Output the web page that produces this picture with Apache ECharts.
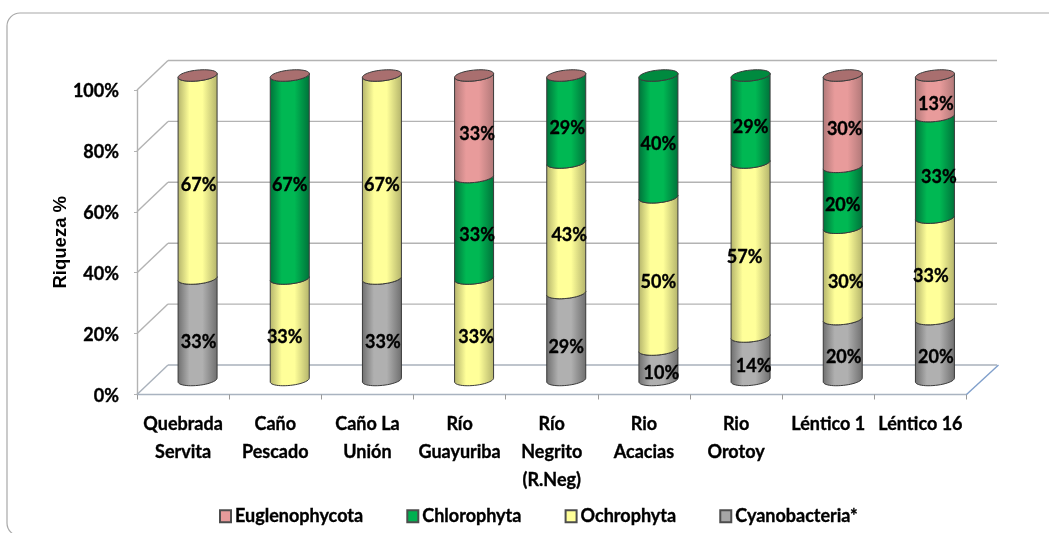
<!DOCTYPE html>
<html>
<head>
<meta charset="utf-8">
<title>Riqueza % por estación</title>
<script src="https://cdn.jsdelivr.net/npm/echarts@6/dist/echarts.min.js"></script>
<style>
  html, body { margin: 0; padding: 0; background: #fff; }
  #chart { width: 1049px; height: 533px; }
</style>
</head>
<body>
<div id="chart"></div>
<script>
// Station names, split over lines the way the axis prints them
const categories = ['Quebrada\nServita', 'Caño\nPescado', 'Caño La\nUnión', 'Río\nGuayuriba',
  'Río\nNegrito\n(R.Neg)', 'Rio\nAcacias', 'Rio\nOrotoy', 'Léntico 1', 'Léntico 16'];

// Percent richness per taxon; null means the taxon is not part of that station's stack
const cyanobacteria = [33.33, 0, 33.33, 0, 28.57, 10, 14.29, 20, 20];
const ochrophyta = [66.67, 33.33, 66.67, 33.33, 42.86, 50, 57.14, 30, 33.33];
const chlorophyta = [0, 66.67, 0, 33.33, 28.57, 40, 28.57, 20, 33.33];
const euglenophycota = [0, 0, 0, 33.34, 0, null, null, 30, 13.34];

const yTicks = [0, 20, 40, 60, 80, 100];

// Hand placement of the value labels relative to their segment, in pixels [dx, dy]
const cyanobacteriaLabelShift = [[1, 13], [0, 0], [1, 13], [0, 0], [0, 11], [3, 8], [3, 8], [1, 8], [1, 8]];
const ochrophytaLabelShift = [[1, 8], [-5, 8], [0, 8], [2, 8], [3, 7], [0, 9], [-6, 8], [3, 9], [-4, 8]];
const chlorophytaLabelShift = [[0, 0], [0, 8], [0, 0], [3, 7], [1, 9], [0, 8], [0, 8], [0, 8], [4, 10]];
const euglenophycotaLabelShift = [[0, 0], [0, 0], [0, 0], [3, 8], [0, 0], [0, 0], [0, 0], [2, 8], [1, 8]];

const FONT = 'Lato';
const TEXT_SIZE = 18;
const DEPTH_X = 31;       // how far the back wall sits from the front plane
const DEPTH_Y = 29.5;
const BAR_SHIFT_X = 14.5; // cylinders stand midway through the depth
const BAR_SHIFT_Y = 14.5;
const RX = 19.6;
const RY = 5.4;
const TILT = -6 * Math.PI / 180;

// Bold text in this size reads a touch light, so it gets a hairline outline
const heavyText = { textBorderColor: '#000', textBorderWidth: 0.35 };

// Point on the tilted ellipse of a cylinder cross-section
function rim(cx, cy, t) {
  const ex = RX * Math.cos(t), ey = RY * Math.sin(t);
  return [cx + ex * Math.cos(TILT) - ey * Math.sin(TILT),
          cy + ex * Math.sin(TILT) + ey * Math.cos(TILT)];
}
// Front half of the ellipse, walking from one side to the other
function frontArc(cx, cy, reverse) {
  const pts = [];
  for (let k = 0; k <= 24; k++) {
    const t = Math.PI * (reverse ? 24 - k : k) / 24;
    pts.push(rim(cx, cy, t));
  }
  return pts;
}
function fullRim(cx, cy) {
  const pts = [];
  for (let k = 0; k < 48; k++) pts.push(rim(cx, cy, 2 * Math.PI * k / 48));
  return pts;
}

function sideGradient(edge, mid) {
  return new echarts.graphic.LinearGradient(0, 0, 1, 0, [
    { offset: 0, color: edge },
    { offset: 0.3, color: mid },
    { offset: 0.62, color: mid },
    { offset: 1, color: edge }
  ]);
}

// Stack bases for each station, taxa in drawing order from the floor up
const stackOrder = [cyanobacteria, ochrophyta, chlorophyta, euglenophycota];
function stackData(level) {
  return categories.map((_, i) => {
    let start = 0;
    for (let s = 0; s < level; s++) start += stackOrder[s][i] || 0;
    const v = stackOrder[level][i];
    return [i, start, v == null ? null : start + v, v];
  });
}

function cylinderSeries(name, level, shades, shifts) {
  return {
    type: 'custom',
    name: name,
    coordinateSystem: 'cartesian2d',
    itemStyle: { color: shades.swatch, borderColor: '#4d4d4d', borderWidth: 1 },
    encode: { x: 0, y: [1, 2] },
    z: 5 + level,
    data: stackData(level),
    renderItem: function (params, api) {
      const value = api.value(3);
      if (value == null || isNaN(value)) return null;
      const i = api.value(0);
      const lo = api.coord([i, api.value(1)]);
      const hi = api.coord([i, api.value(2)]);
      const cx = lo[0] + BAR_SHIFT_X;
      const y0 = lo[1] - BAR_SHIFT_Y;
      const y1 = hi[1] - BAR_SHIFT_Y;
      const children = [];
      if (value > 0) {
        children.push({
          type: 'polygon',
          shape: { points: frontArc(cx, y0, false).concat(frontArc(cx, y1, true)) },
          style: { fill: sideGradient(shades.edge, shades.mid), stroke: '#3a3a3a', lineWidth: 1 }
        });
        children.push({
          type: 'text',
          z2: 50,
          style: {
            x: cx + shifts[i][0],
            y: (y0 + y1) / 2 + shifts[i][1],
            text: Math.round(value) + '%',
            fill: '#000',
            stroke: '#000',
            lineWidth: 0.35,
            font: 'bold 18px ' + FONT,
            align: 'center',
            verticalAlign: 'middle'
          }
        });
      }
      // The cap closes the stack: the last taxon listed for this station
      const isTop = level === 3 || (level === 2 && euglenophycota[i] == null);
      if (isTop) {
        children.push({
          type: 'polygon',
          z2: 10,
          shape: { points: fullRim(cx, y1) },
          style: { fill: shades.cap, stroke: '#3a3a3a', lineWidth: 1 }
        });
      }
      return { type: 'group', children: children };
    }
  };
}

// Depth lines of the side wall and the back wall, one per value tick
const wallSeries = {
  type: 'custom',
  name: 'walls',
  coordinateSystem: 'cartesian2d',
  silent: true,
  z: 1,
  data: yTicks.map(v => [0, v]),
  encode: { x: 0, y: 1 },
  renderItem: function (params, api) {
    const y = api.coord([0, api.value(1)])[1];
    const left = params.coordSys.x;
    const right = left + params.coordSys.width;
    const isFloor = api.value(1) === 0;
    const style = { stroke: isFloor ? '#a9b1bb' : '#b3b3b3', lineWidth: 1.4 };
    const children = [
      { type: 'line', shape: { x1: left, y1: y, x2: left + DEPTH_X, y2: y - DEPTH_Y }, style: style },
      { type: 'line', shape: { x1: left + DEPTH_X, y1: y - DEPTH_Y, x2: right + DEPTH_X - 0.5, y2: y - DEPTH_Y }, style: style }
    ];
    if (isFloor) {
      children.push({
        type: 'line',
        shape: { x1: right, y1: y, x2: right + DEPTH_X + 1, y2: y - DEPTH_Y },
        style: { stroke: '#7f9fcb', lineWidth: 1.4 }
      });
    }
    return { type: 'group', children: children };
  }
};

const chart = echarts.init(document.getElementById('chart'), null, { renderer: 'canvas' });
chart.setOption({
  animation: false,
  backgroundColor: '#fff',
  graphic: [{
    type: 'rect',
    z: -10,
    shape: { x: 7, y: 13, width: 1150, height: 523, r: 13 },
    style: { fill: '#fff', stroke: '#a8a8a8', lineWidth: 1.2 }
  }],
  grid: { left: 137, right: 82.5, top: 90, bottom: 138.5, containLabel: false },
  legend: {
    left: 214,
    top: 502,
    selectedMode: false,
    icon: 'rect',
    itemWidth: 11,
    itemHeight: 12,
    itemGap: 43,
    data: ['Euglenophycota', 'Chlorophyta', 'Ochrophyta', 'Cyanobacteria*'],
    textStyle: Object.assign({ fontFamily: FONT, fontWeight: 'bold', fontSize: TEXT_SIZE, color: '#000', padding: [0, 0, 0, -1] }, heavyText)
  },
  xAxis: {
    type: 'category',
    data: categories,
    boundaryGap: true,
    axisLine: { lineStyle: { color: '#a9b3c0', width: 1.4 } },
    axisTick: { show: true, length: 5, lineStyle: { color: '#9a9a9a' } },
    splitLine: { show: false },
    axisLabel: Object.assign({
      interval: 0,
      margin: 16,
      lineHeight: 28,
      fontFamily: FONT,
      fontWeight: 'bold',
      fontSize: TEXT_SIZE,
      color: '#000'
    }, heavyText)
  },
  yAxis: {
    type: 'value',
    min: 0,
    max: 100,
    interval: 20,
    name: 'Riqueza %',
    nameLocation: 'middle',
    nameGap: 67,
    nameMoveOverlap: false,
    nameTextStyle: { fontFamily: 'Liberation Sans', fontWeight: 'bold', fontSize: 18.5, color: '#000' },
    axisLine: { show: true, lineStyle: { color: '#b3b3b3', width: 1.4 } },
    axisTick: { show: true, length: 3, lineStyle: { color: '#b3b3b3' } },
    splitLine: { show: false },
    axisLabel: Object.assign({
      margin: 18,
      verticalAlign: 'top',
      lineHeight: 3,
      formatter: '{value}%',
      fontFamily: FONT,
      fontWeight: 'bold',
      fontSize: TEXT_SIZE,
      color: '#000'
    }, heavyText)
  },
  series: [
    wallSeries,
    cylinderSeries('Cyanobacteria*', 0, { swatch: '#a6a6a6', edge: '#6e6e6e', mid: '#b0b0b0', cap: '#8a8a8a' }, cyanobacteriaLabelShift),
    cylinderSeries('Ochrophyta', 1, { swatch: '#ffff99', edge: '#b3b36b', mid: '#ffff99', cap: '#cccc7a' }, ochrophytaLabelShift),
    cylinderSeries('Chlorophyta', 2, { swatch: '#00b050', edge: '#00713a', mid: '#00b853', cap: '#008a3f' }, chlorophytaLabelShift),
    cylinderSeries('Euglenophycota', 3, { swatch: '#e69a9a', edge: '#b07878', mid: '#e89b9b', cap: '#a96f6f' }, euglenophycotaLabelShift)
  ]
});
</script>
</body>
</html>
